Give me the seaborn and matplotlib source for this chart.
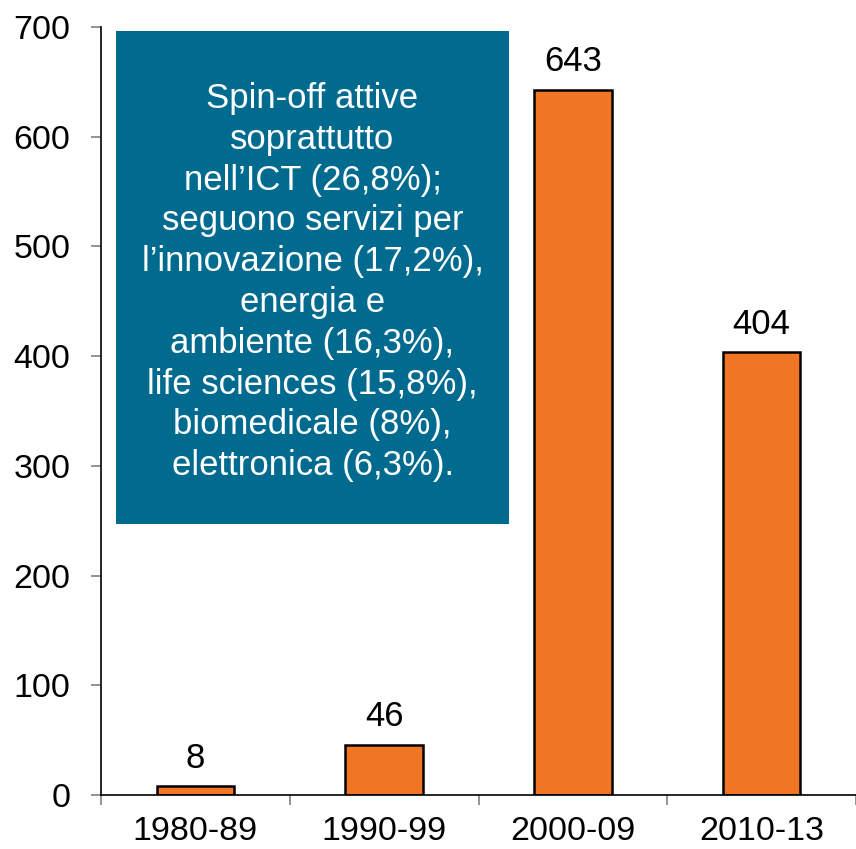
import matplotlib

matplotlib.use("Agg")
import matplotlib.pyplot as plt
import seaborn as sns
import pandas as pd
from matplotlib.patches import Rectangle

periods = ["1980-89", "1990-99", "2000-09", "2010-13"]
spinoffs = [8, 46, 643, 404]
y_ticks = [0, 100, 200, 300, 400, 500, 600, 700]
box_text = ("Spin-off attive\nsoprattutto\nnell\u2019ICT (26,8%);\nseguono servizi per\n"
            "l\u2019innovazione (17,2%),\nenergia e\nambiente (16,3%),\n"
            "life sciences (15,8%),\nbiomedicale (8%),\nelettronica (6,3%).")

sns.set_style("white")
plt.rcParams['font.family'] = ['Liberation Sans', 'DejaVu Sans']
plt.rcParams['text.color'] = 'black'
plt.rcParams['xtick.labelcolor'] = 'black'
plt.rcParams['ytick.labelcolor'] = 'black'

df = pd.DataFrame({"period": periods, "count": spinoffs})

fig = plt.figure(figsize=(8.56, 8.49), dpi=100)
ax = fig.add_axes([101 / 856, 1 - 795 / 849, 755 / 856, 768 / 849])

sns.barplot(data=df, x="period", y="count", color="#F07524", saturation=1,
            width=0.41, edgecolor="black", linewidth=1.8, ax=ax)

for c in ax.containers:
    ax.bar_label(c, labels=[str(v) for v in spinoffs], fontsize=25, padding=8,
                 color='black')

ax.set_ylim(0, 700)
ax.set_xlim(-0.5, 3.453)
ax.set_yticks(y_ticks)
ax.set_xticks(range(len(periods)))
ax.set_xticks([-0.5, 0.5, 1.5, 2.5, 3.5], minor=True)
ax.set_xlabel("")
ax.set_ylabel("")

ax.tick_params(axis='y', which='major', length=7, width=1.2, color='#808080',
               direction='out', labelsize=24.5, pad=15, left=True,
               labelcolor='black')
ax.tick_params(axis='x', which='major', length=0, labelsize=24.5, pad=15,
               labelcolor='black')
ax.tick_params(axis='x', which='minor', length=7.5, width=1.2, color='#808080',
               direction='out', bottom=True)

for s in ['top', 'right']:
    ax.spines[s].set_visible(False)
for s in ['left', 'bottom']:
    ax.spines[s].set_color('black')
    ax.spines[s].set_linewidth(1.2)

# text box in axes coordinates
bx0, bx1 = 15 / 755, 408 / 755
by0, by1 = 271 / 768, 764 / 768
ax.add_patch(Rectangle((bx0, by0), bx1 - bx0, by1 - by0, transform=ax.transAxes,
                       facecolor="#006A8F", edgecolor="none", zorder=5, clip_on=False))
ax.text((bx0 + bx1) / 2, (by0 + by1) / 2 - 0.006, box_text, transform=ax.transAxes,
        ha='center', va='center', color='white', fontsize=25, linespacing=1.30,
        zorder=6)

plt.savefig("out.png", dpi=100)
